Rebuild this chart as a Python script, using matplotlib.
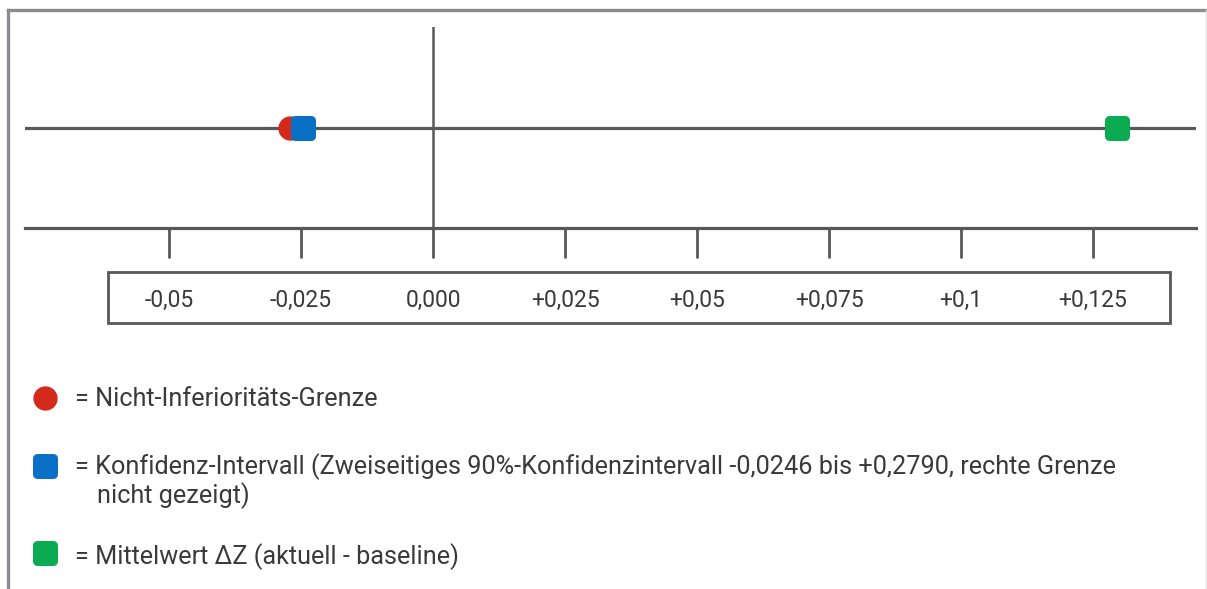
import matplotlib.pyplot as plt
from matplotlib.lines import Line2D
from matplotlib.markers import MarkerStyle
from matplotlib.patches import Rectangle

plt.rcParams['font.family'] = ['Roboto', 'DejaVu Sans']

# Scale ticks and their German labels
tick_values = [-0.05, -0.025, 0.0, 0.025, 0.05, 0.075, 0.1, 0.125]
tick_labels = ['-0,05', '-0,025', '0,000', '+0,025', '+0,05', '+0,075', '+0,1', '+0,125']

# Marker positions on the scale
ni_limit = -0.0272      # non-inferiority limit (drawn just left of the CI bound)
ci_lower = -0.0246      # lower bound of the two-sided 90% CI
mean_dz = 0.1295        # mean delta Z

RED = '#d42a1c'
BLUE = '#0a70c6'
GREEN = '#0bab52'
LINE = '#58585c'
TEXT = '#3a3a3c'

W, H = 1207, 589
fig = plt.figure(figsize=(W / 100, H / 100), dpi=100)

rsq = MarkerStyle('s', joinstyle='round')
sq = dict(marker=rsq, ms=11, mew=6.5, ls='none')

# main scale axes
ax = fig.add_axes([25 / W, 1 - 228 / H, (1196 - 25) / W, (228 - 27) / H])
ax.set_xlim(-0.0773, 0.1445)
ax.set_ylim(0, 2.01)
for s in ['top', 'left', 'right']:
    ax.spines[s].set_visible(False)
ax.spines['bottom'].set_color(LINE)
ax.spines['bottom'].set_linewidth(2.3)
ax.set_yticks([])
ax.set_xticks(tick_values)
ax.set_xticklabels(tick_labels)
ax.tick_params(axis='x', direction='out', length=21.6, width=2.0, color=LINE,
               pad=22, labelsize=16.5, labelcolor=TEXT)
ax.axhline(1.0, color=LINE, lw=2.3, zorder=1)
ax.axvline(0.0, color=LINE, lw=1.8, zorder=1)

ax.plot([ni_limit], [1.0], 'o', ms=16.5, color=RED, mec=RED, zorder=3)
ax.plot([ci_lower], [1.0], color=BLUE, mec=BLUE, zorder=4, **sq)
ax.plot([mean_dz], [1.0], color=GREEN, mec=GREEN, zorder=4, **sq)

# box around the tick labels
fig.patches.append(Rectangle((108 / W, 1 - 323 / H), (1170 - 108) / W, (323 - 272) / H,
                             transform=fig.transFigure, fill=False,
                             edgecolor=LINE, lw=2.0))

# outer frame (top and left)
fig.add_artist(Line2D([8 / W, 1], [1 - 10 / H, 1 - 10 / H], transform=fig.transFigure,
                      color='#8c8c90', lw=2.4))
fig.add_artist(Line2D([8 / W, 8 / W], [0, 1 - 10 / H], transform=fig.transFigure,
                      color='#8c8c90', lw=2.4))
fig.add_artist(Line2D([1205.5 / W, 1205.5 / W], [0, 1 - 10 / H], transform=fig.transFigure,
                      color='#e0e0e0', lw=1.0))

# legend
lg = fig.add_axes([0, 0, 1, 1])
lg.set_xlim(0, W)
lg.set_ylim(H, 0)
lg.axis('off')
lg.patch.set_alpha(0)

lg.plot([45], [398], 'o', ms=16.5, color=RED, mec=RED)
lg.plot([45], [466], color=BLUE, mec=BLUE, **sq)
lg.plot([45], [553], color=GREEN, mec=GREEN, **sq)

fs = 18.2
lg.text(75, 399, '= Nicht-Inferioritäts-Grenze', fontsize=fs, color=TEXT, va='center')
lg.text(75, 467, '= Konfidenz-Intervall (Zweiseitiges 90%-Konfidenzintervall -0,0246 bis +0,2790, rechte Grenze',
        fontsize=fs, color=TEXT, va='center')
lg.text(97, 496, 'nicht gezeigt)', fontsize=fs, color=TEXT, va='center')
lg.text(75, 557, '= Mittelwert \u0394Z (aktuell - baseline)', fontsize=fs, color=TEXT, va='center')

fig.savefig('out.png', dpi=100)
